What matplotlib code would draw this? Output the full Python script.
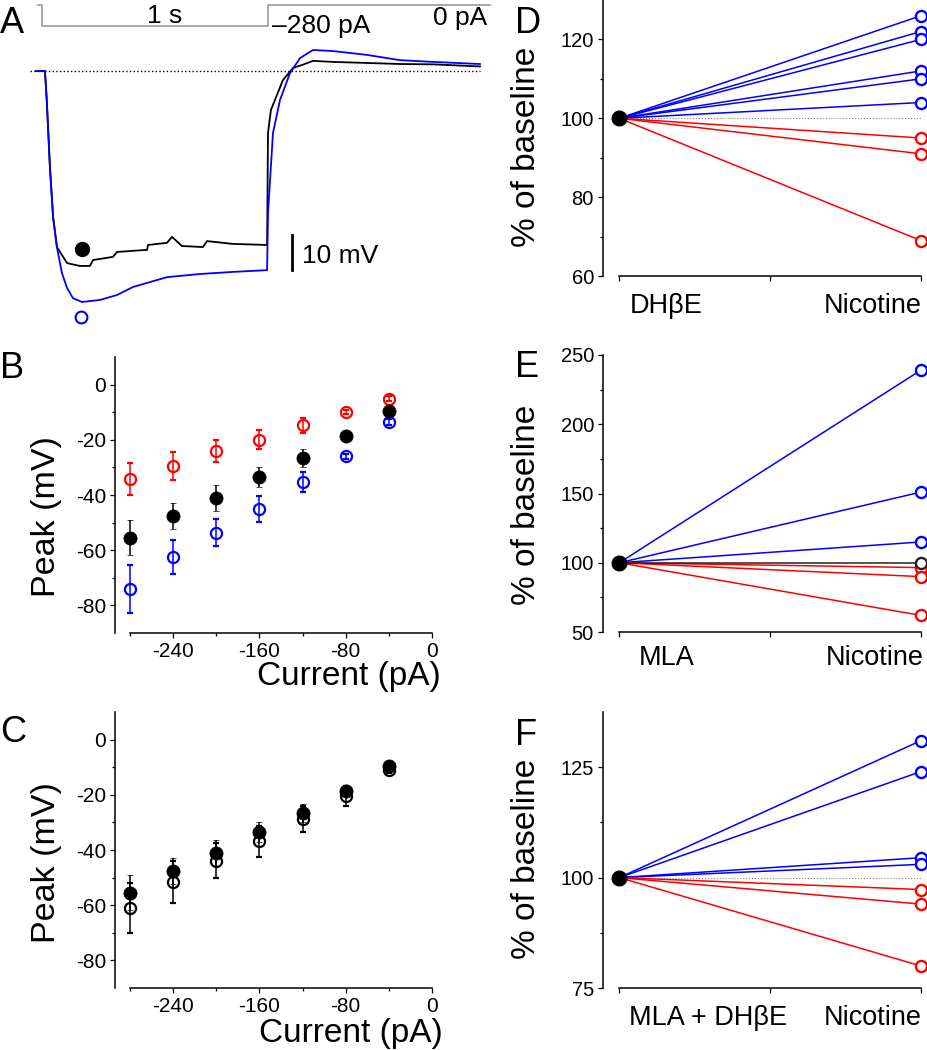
import matplotlib.pyplot as plt

plt.rcParams['font.family'] = ['Liberation Sans', 'DejaVu Sans']
plt.rcParams['axes.unicode_minus'] = False

W, H = 928, 1050

# A: example voltage traces (time in s, membrane potential in mV from rest)
ctrl_t = [-0.027, 0.013, 0.021, 0.035, 0.049, 0.066, 0.111, 0.168, 0.212, 0.226,
          0.314, 0.332, 0.465, 0.469, 0.553, 0.575, 0.619, 0.712, 0.730, 0.845,
          0.996, 1.0, 1.013, 1.066, 1.111, 1.150, 1.199, 1.288, 1.438, 1.584,
          1.730, 1.938]
ctrl_v = [0, 0, -8.3, -27.4, -41.7, -50.3, -54.9, -55.7, -55.7, -54.0,
          -53.1, -51.7, -51.1, -49.7, -49.1, -47.4, -50.0, -50.3, -48.6, -49.4,
          -49.7, -17.7, -11.1, -2.6, 0.9, 1.7, 2.9, 2.6, 2.3, 2.0,
          1.9, 1.3]
nic_t = [-0.027, 0.013, 0.021, 0.035, 0.049, 0.066, 0.088, 0.111, 0.137, 0.177,
         0.257, 0.332, 0.403, 0.478, 0.553, 0.699, 0.845, 0.996, 1.0, 1.022,
         1.053, 1.097, 1.142, 1.199, 1.288, 1.438, 1.584, 1.730, 1.938]
nic_v = [0, 0, -8.3, -27.4, -41.7, -50.3, -57.7, -62.0, -64.9, -66.0,
         -65.4, -64.0, -61.7, -60.3, -58.9, -58.0, -57.4, -56.9, -40.6, -17.7,
         -8.3, -0.6, 3.7, 6.0, 5.7, 4.6, 3.1, 2.6, 2.0]
stim_t = [-0.018, 0, 0, 1, 1, 1.982]
stim_i = [0, 0, -280, -280, 0, 0]

# B, C: peak hyperpolarisation vs injected current
current = [-280, -240, -200, -160, -120, -80, -40]
peak_ctrl = [-55.4, -47.6, -41.1, -33.5, -26.6, -18.7, -9.6]
err_ctrl = [6.2, 4.8, 4.6, 3.6, 3.3, 1.0, 1.0]
peak_dec = [-34.2, -29.5, -24.2, -19.9, -14.7, -9.9, -5.1]
err_dec = [5.8, 4.9, 4.0, 3.6, 2.7, 0.6, 1.0]
peak_inc = [-73.9, -62.5, -53.6, -45.2, -35.3, -26.0, -13.5]
err_inc = [8.7, 6.3, 5.0, 4.7, 3.6, 1.0, 1.0]
peak_nic = [-60.9, -51.6, -43.9, -36.8, -28.7, -20.4, -11.0]
err_nic = [9.0, 7.5, 6.3, 5.6, 4.6, 3.6, 1.0]

# D-F: % of baseline after nicotine
d_up = [126, 122, 120, 112, 110, 104]
d_down = [95, 91, 69]
e_up = [239, 151, 115]
e_down = [96.5, 90, 62]
e_flat = [100]
f_up = [131, 124, 104.5, 103]
f_down = [97.3, 94, 80]


def rect(l, t, r, b):
    return [l / W, 1 - b / H, (r - l) / W, (b - t) / H]


def ftext(x, y, s, size, **kw):
    fig.text(x / W, 1 - y / H, s, fontsize=size, **kw)


fig = plt.figure(figsize=(W / 100, H / 100), dpi=100)

# ---- A
axA = fig.add_axes(rect(30, 0, 500, 330))
axA.set_xlim(-0.0531, 2.0265)
axA.set_ylim(-74, 20.29)
axA.axis('off')
axA.plot([-0.053, 1.938], [0, 0], color='k', ls=':', lw=1)
axA.plot(ctrl_t, ctrl_v, color='k', lw=1.3)
axA.plot(nic_t, nic_v, color='#0000ff', lw=1.3)
axA.plot([1.106, 1.106], [-46.9, -56.9], color='k', lw=2)
axA.plot(0.177, -50.9, 'o', color='k', ms=10)
axA.plot(0.173, -70.3, 'o', mfc='none', mec='#0000ff', ms=8.5, mew=1.5)

axS = fig.add_axes(rect(30, 0, 500, 31))
axS.set_xlim(-0.0531, 2.0265)
axS.set_ylim(-346.7, 66.7)
axS.axis('off')
axS.plot(stim_t, stim_i, color='0.6', lw=1.2)

ftext(147, 23, '1 s', 19, va='baseline')
ftext(272, 33, '\u2013280 pA', 19, va='baseline')
ftext(433, 25, '0 pA', 19, va='baseline')
ftext(302, 263, '10 mV', 19, va='baseline')


# ---- B, C
def iv_axes(ax):
    ax.set_xlim(-293.9, 0)
    ax.set_ylim(-90, 10)
    for s in ['top', 'right']:
        ax.spines[s].set_visible(False)
    ax.spines['left'].set_bounds(-90, 10)
    ax.spines['bottom'].set_bounds(-280, 0)
    for s in ['left', 'bottom']:
        ax.spines[s].set_linewidth(1.1)
    ax.set_xticks([-240, -160, -80, 0])
    ax.set_xticks([-280, -200, -120, -40], minor=True)
    ax.set_yticks([-80, -60, -40, -20, 0])
    ax.set_yticks([-70, -50, -30, -10], minor=True)
    ax.tick_params(labelsize=15, length=3.5, width=0.9, pad=3)
    ax.tick_params(which='minor', length=2.2, width=0.9)


eb = dict(fmt='o', ms=8, mew=1.6, elinewidth=1.1, capsize=2, capthick=1.1)

axB = fig.add_axes(rect(115, 357, 432, 633))
iv_axes(axB)
axB.errorbar(current, peak_dec, yerr=err_dec, color='#ff0000', mfc='none', **eb)
axB.errorbar(current, peak_inc, yerr=err_inc, color='#0000ff', mfc='none', **eb)
axB.errorbar(current, peak_ctrl, yerr=err_ctrl, color='k', mfc='k',
             **dict(eb, ms=9.5, mew=0.5))

axC = fig.add_axes(rect(115, 712, 432, 988))
iv_axes(axC)
axC.errorbar(current, peak_nic, yerr=err_nic, color='k', mfc='none', **eb)
axC.errorbar(current, peak_ctrl, yerr=err_ctrl, color='k', mfc='k',
             **dict(eb, ms=9.5, mew=0.5))

for yc in [517, 863]:
    ftext(47, yc, 'Peak (mV)', 24.5, rotation=90, ha='center', va='center')
ftext(257, 685, 'Current (pA)', 24, va='baseline')
ftext(259, 1042, 'Current (pA)', 24, va='baseline')


# ---- D, E, F
def pair_axes(ax, ylim, major, minor):
    ax.set_xlim(-0.054, 1.024)
    ax.set_ylim(*ylim)
    for s in ['top', 'right']:
        ax.spines[s].set_visible(False)
    ax.spines['bottom'].set_bounds(0, 1)
    for s in ['left', 'bottom']:
        ax.spines[s].set_linewidth(1.1)
    ax.set_xticks([0, 0.5, 1])
    ax.set_xticklabels([])
    ax.set_yticks(major)
    ax.set_yticks(minor, minor=True)
    ax.tick_params(labelsize=14.5, length=3.5, width=0.9, pad=3)
    ax.tick_params(which='minor', length=2.2, width=0.9)


def pair_lines(ax, vals, color):
    for v in vals:
        ax.plot([0, 1], [100, v], color=color, lw=1.1)
        ax.plot(1, v, 'o', mfc='white', mec=color, ms=8, mew=1.7, clip_on=False, zorder=4)


axD = fig.add_axes(rect(603, 0, 928, 276))
pair_axes(axD, (60, 130), [60, 80, 100, 120], [70, 90, 110])
axD.plot([0, 1], [100, 100], color='0.5', ls=':', lw=0.8)
pair_lines(axD, d_up, '#0000ff')
pair_lines(axD, d_down, '#ff0000')
axD.plot(0, 100, 'o', color='k', ms=10.5, zorder=5, clip_on=False)

axE = fig.add_axes(rect(603, 355, 928, 632))
pair_axes(axE, (50, 250), [50, 100, 150, 200, 250], [75, 125, 175, 225])
pair_lines(axE, e_up, '#0000ff')
pair_lines(axE, e_down, '#ff0000')
pair_lines(axE, e_flat, '#222222')
axE.plot(0, 100, 'o', color='k', ms=10.5, zorder=5, clip_on=False)

axF = fig.add_axes(rect(603, 712, 928, 988))
pair_axes(axF, (75, 137.5), [75, 100, 125], [87.5, 112.5])
axF.plot([0, 1], [100, 100], color='0.5', ls=':', lw=0.8)
pair_lines(axF, f_up, '#0000ff')
pair_lines(axF, f_down, '#ff0000')
axF.plot(0, 100, 'o', color='k', ms=10.5, zorder=5, clip_on=False)

for yc in [147, 505, 859]:
    ftext(527, yc, '% of baseline', 24, rotation=90, ha='center', va='center')

ftext(666, 313, 'DH\u03b2E', 19.5, ha='center', va='baseline')
ftext(873, 313, 'Nicotine', 19.5, ha='center', va='baseline')
ftext(667, 665, 'MLA', 19.5, ha='center', va='baseline')
ftext(875, 665, 'Nicotine', 19.5, ha='center', va='baseline')
ftext(708, 1025, 'MLA + DH\u03b2E', 19.5, ha='center', va='baseline')
ftext(873, 1025, 'Nicotine', 19.5, ha='center', va='baseline')

# panel letters
for x, y, s in [(0, 33, 'A'), (0, 378, 'B'), (0, 742, 'C'),
                (515, 33, 'D'), (515, 377, 'E'), (515, 745, 'F')]:
    ftext(x, y, s, 26, va='baseline')

fig.savefig('out.png', dpi=100)
